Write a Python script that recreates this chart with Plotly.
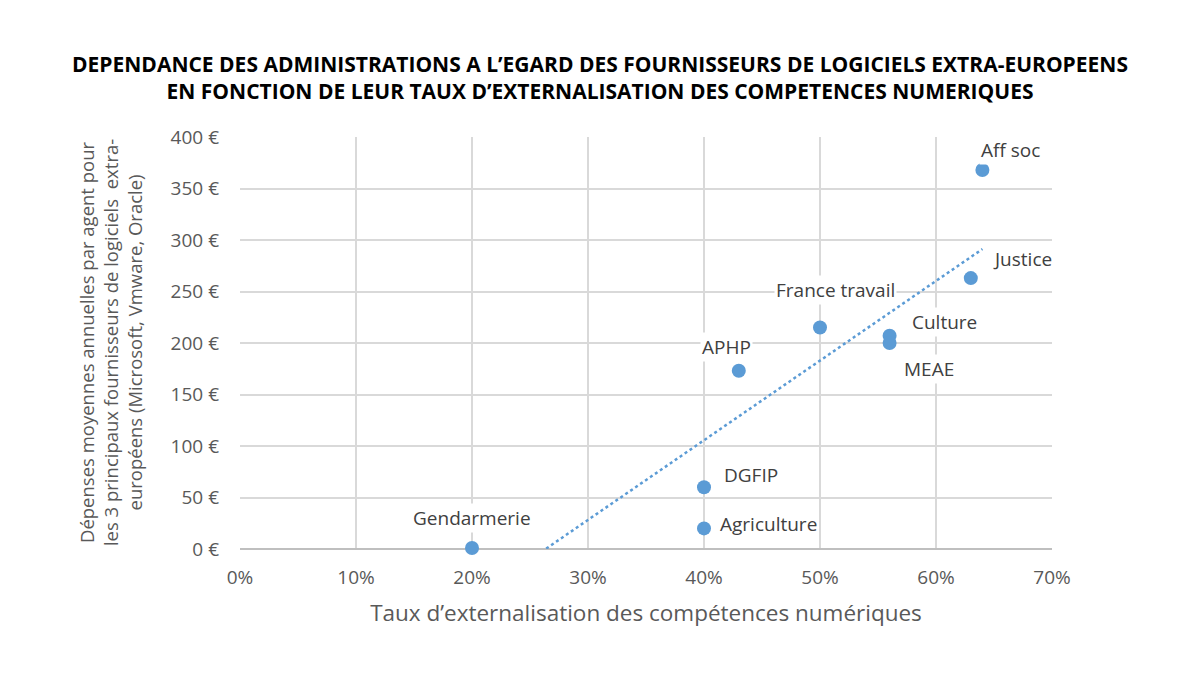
import numpy as np
import plotly.graph_objects as go

names = ["Gendarmerie", "DGFIP", "Agriculture", "APHP", "France travail", "Culture", "MEAE", "Justice", "Aff soc"]
taux = [0.20, 0.40, 0.40, 0.43, 0.50, 0.56, 0.56, 0.63, 0.64]
depenses = [1, 60, 20, 173, 215, 207, 200, 263, 368]
x_ticks = [0, 0.1, 0.2, 0.3, 0.4, 0.5, 0.6, 0.7]
x_tick_labels = ["0%", "10%", "20%", "30%", "40%", "50%", "60%", "70%"]
y_ticks = [0, 50, 100, 150, 200, 250, 300, 350, 400]
y_tick_labels = ["0 €", "50 €", "100 €", "150 €", "200 €", "250 €", "300 €", "350 €", "400 €"]

# label offsets (style): (xshift, yshift, xanchor)
label_style = {
    "Gendarmerie": (0, 30, "center"),
    "DGFIP": (18, 12, "left"),
    "Agriculture": (14, 4, "left"),
    "APHP": (-12, 24, "center"),
    "France travail": (15, 38, "center"),
    "Culture": (20, 14, "left"),
    "MEAE": (12, -26, "left"),
    "Justice": (20, 19, "left"),
    "Aff soc": (28, 20, "center"),
}

blue = "#5B9BD5"
grey_text = "#595959"

slope, intercept = np.polyfit(taux, depenses, 1)
tx = np.array([min(taux), max(taux)])
ty = slope * tx + intercept

fig = go.Figure()
fig.add_trace(go.Scatter(x=tx, y=ty, mode="lines",
                         line=dict(color=blue, width=2.5, dash="dot"),
                         hoverinfo="skip", showlegend=False))
fig.add_trace(go.Scatter(x=taux, y=depenses, mode="markers",
                         marker=dict(color=blue, size=14),
                         showlegend=False, cliponaxis=False))

for n, xv, yv in zip(names, taux, depenses):
    xs, ys, xa = label_style[n]
    fig.add_annotation(x=xv, y=yv, text=n, showarrow=False, xshift=xs, yshift=ys,
                       xanchor=xa, yanchor="middle", bgcolor="white",
                       font=dict(family="Open Sans", size=19, color="#404040"))

fig.add_annotation(
    text="Dépenses moyennes annuelles par agent pour<br>les 3 principaux fournisseurs de logiciels  extra-<br>européens (Microsoft, Vmware, Oracle)",
    xref="paper", yref="paper", x=-0.16, y=0.5, textangle=-90, showarrow=False,
    xanchor="center", yanchor="middle", align="center",
    font=dict(family="Open Sans", size=18.5, color=grey_text))

fig.update_layout(
    width=1200, height=675,
    paper_bgcolor="white", plot_bgcolor="white",
    margin=dict(l=240, r=148, t=137, b=126),
    title=dict(
        text="<b>DEPENDANCE DES ADMINISTRATIONS A L’EGARD DES FOURNISSEURS DE LOGICIELS EXTRA-EUROPEENS<br>EN FONCTION DE LEUR TAUX D’EXTERNALISATION DES COMPETENCES NUMERIQUES</b>",
        x=0.5, xanchor="center", y=0.894, yanchor="middle",
        font=dict(family="Open Sans", size=21, color="black")),
    xaxis=dict(range=[0, 0.7], tickvals=x_ticks, ticktext=x_tick_labels,
               showgrid=True, gridcolor="#d9d9d9", gridwidth=2,
               zeroline=False, showline=False, ticks="", ticklabelstandoff=15,
               tickfont=dict(family="Open Sans", size=19, color=grey_text),
               title=dict(text="Taux d’externalisation des compétences numériques",
                          font=dict(family="Open Sans", size=22.5, color=grey_text), standoff=16)),
    yaxis=dict(range=[0, 400], tickvals=y_ticks, ticktext=y_tick_labels,
               showgrid=True, gridcolor="#d9d9d9", gridwidth=2,
               zeroline=True, zerolinecolor="#bfbfbf", zerolinewidth=2,
               showline=False, ticks="", ticklabelstandoff=20,
               tickfont=dict(family="Open Sans", size=19, color=grey_text)),
)
fig.write_html("out.html")
